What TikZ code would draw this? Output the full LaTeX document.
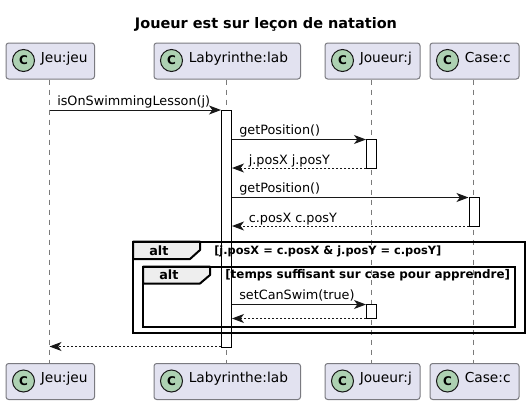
\documentclass[tikz,border=0pt]{standalone}
\usepackage{fontspec}
\setmainfont{DejaVu Sans}
\usetikzlibrary{arrows.meta}
\definecolor{partfill}{HTML}{E2E2F0}
\definecolor{partline}{HTML}{7A7A80}
\definecolor{circlefill}{HTML}{ADD1B2}
\definecolor{altfill}{HTML}{EEEEEE}
\definecolor{lifeline}{HTML}{7A7A7A}
\definecolor{ink}{HTML}{181818}
\newcommand{\fs}[1]{\fontsize{#1}{#1}\selectfont}
\tikzset{
  x=0.75pt,y=-0.75pt,
  part/.style={draw=partline,fill=partfill,line width=0.75pt,rounded corners=2pt,minimum height=27pt,inner sep=0pt,anchor=north west},
  badge/.style={circle,draw=ink,fill=circlefill,line width=0.75pt,minimum size=16.5pt,inner sep=0pt,font=\fs{9}\bfseries},
  lab/.style={font=\fs{10.3},inner sep=0pt,anchor=base west,text=black},
  msg/.style={font=\fs{9.6},inner sep=0pt,anchor=base west,text=black},
  life/.style={draw=lifeline,line width=0.5pt,dash pattern=on 3.75pt off 3.75pt},
  act/.style={draw=black,fill=white,line width=0.75pt,anchor=north west,inner sep=0pt,minimum width=7.5pt},
  arr/.style={draw=ink,line width=0.75pt,-{Stealth[length=9pt,width=6.75pt,inset=2.5pt]}},
  ret/.style={arr,dash pattern=on 1.5pt off 1.5pt},
  frm/.style={draw=black,line width=1.5pt},
  tab/.style={draw=black,fill=altfill,line width=1.5pt,line join=round},
  alttext/.style={inner sep=0pt,anchor=base west,text=black},
}
\begin{document}
\begin{tikzpicture}
\useasboundingbox[fill=white] (0,0) rectangle (529,404);
\node[font=\fs{10.85}\bfseries,inner sep=0pt,anchor=base] (title) at (266,28) {Joueur est sur leçon de natation};

% participants
\foreach \n/\xa/\w/\t/\tx in {jeu/5.5/88.5/Jeu:jeu/40.5,lab/153.5/146.5/Labyrinthe:lab/188.5,jj/324.5/95/Joueur:j/359.5,cc/429.5/89/Case:c/464.5}{
  \node[part,minimum width=\w*0.75pt] (\n T) at (\xa,42.5) {};
  \node[part,minimum width=\w*0.75pt] (\n B) at (\xa,363) {};
  \node[badge] (\n TC) at (\xa+18,60.5) {C};
  \node[badge] (\n BC) at (\xa+18,381) {C};
  \node[lab] (\n TL) at (\tx,62) {\t};
  \node[lab] (\n BL) at (\tx,382.5) {\t};
}
% lifeline anchors
\coordinate (jeuX) at (49.5,0);
\coordinate (labX) at (226,0);
\coordinate (jjX) at (371.5,0);
\coordinate (ccX) at (473.5,0);
\draw[life] (jeuX |- jeuT.south) -- (jeuX |- jeuB.north);
\draw[life] (labX |- labT.south) -- (labX |- labB.north);
\draw[life] (jjX |- jjT.south) -- (jjX |- jjB.north);
\draw[life] (ccX |- ccT.south) -- (ccX |- ccB.north);

% activations
\node[act,minimum height=237*0.75pt] (a1) at (221,110) {};
\node[act,minimum height=29*0.75pt] (a2) at (366,139) {};
\node[act,minimum height=29*0.75pt] (a3) at (468.5,197) {};
\node[act,minimum height=14*0.75pt] (a4) at (366,304) {};

% frames
\coordinate (f1a) at (133,241.5);
\coordinate (f1b) at (525,333);
\coordinate (f2a) at (143,266.5);
\coordinate (f2b) at (515,326.5);
\draw[tab] (f1a) -- (200,241.5) -- (200,250) -- (190,259) -- (133,259) -- cycle;
\draw[frm] (f1a) rectangle (f1b);
\draw[tab] (f2a) -- (210,266.5) -- (210,275) -- (200,283.5) -- (143,283.5) -- cycle;
\draw[frm] (f2a) rectangle (f2b);
\node[alttext,font=\fs{9.6}\bfseries] (alt1) at (149,255) {alt};
\node[alttext,font=\fs{9.6}\bfseries] (alt2) at (159,279) {alt};
\node[alttext,font=\fs{8.55}\bfseries] (g1) at (214,254) {[j.posX = c.posX \& j.posY = c.posY]};
\node[alttext,font=\fs{8.95}\bfseries] (g2) at (225,278) {[temps suffisant sur case pour apprendre]};

% messages
\coordinate (m1) at (0,110);
\coordinate (m2) at (0,139.5);
\coordinate (m3) at (0,168);
\coordinate (m4) at (0,197.5);
\coordinate (m5) at (0,226);
\coordinate (m6) at (0,304.5);
\coordinate (m7) at (0,318.5);
\coordinate (m8) at (0,346.5);
\draw[arr] (jeuX |- m1) -- (a1.west |- m1);
\draw[arr] (a1.east |- m2) -- (a2.west |- m2);
\draw[ret] (a2.west |- m3) -- (a1.east |- m3);
\draw[arr] (a1.east |- m4) -- (a3.west |- m4);
\draw[ret] (a3.west |- m5) -- (a1.east |- m5);
\draw[arr] (a1.east |- m6) -- (a4.west |- m6);
\draw[ret] (a4.west |- m7) -- (a1.east |- m7);
\draw[ret] (a1.west |- m8) -- (jeuX |- m8);
\node[msg] (t1) at (57,105) {isOnSwimmingLesson(j)};
\node[msg] (t2) at (239,134) {getPosition()};
\node[msg] (t3) at (248.5,164) {j.posX j.posY};
\node[msg] (t4) at (239,192.5) {getPosition()};
\node[msg] (t5) at (248.5,222) {c.posX c.posY};
\node[msg] (t6) at (239,299) {setCanSwim(true)};
\end{tikzpicture}
\end{document}
